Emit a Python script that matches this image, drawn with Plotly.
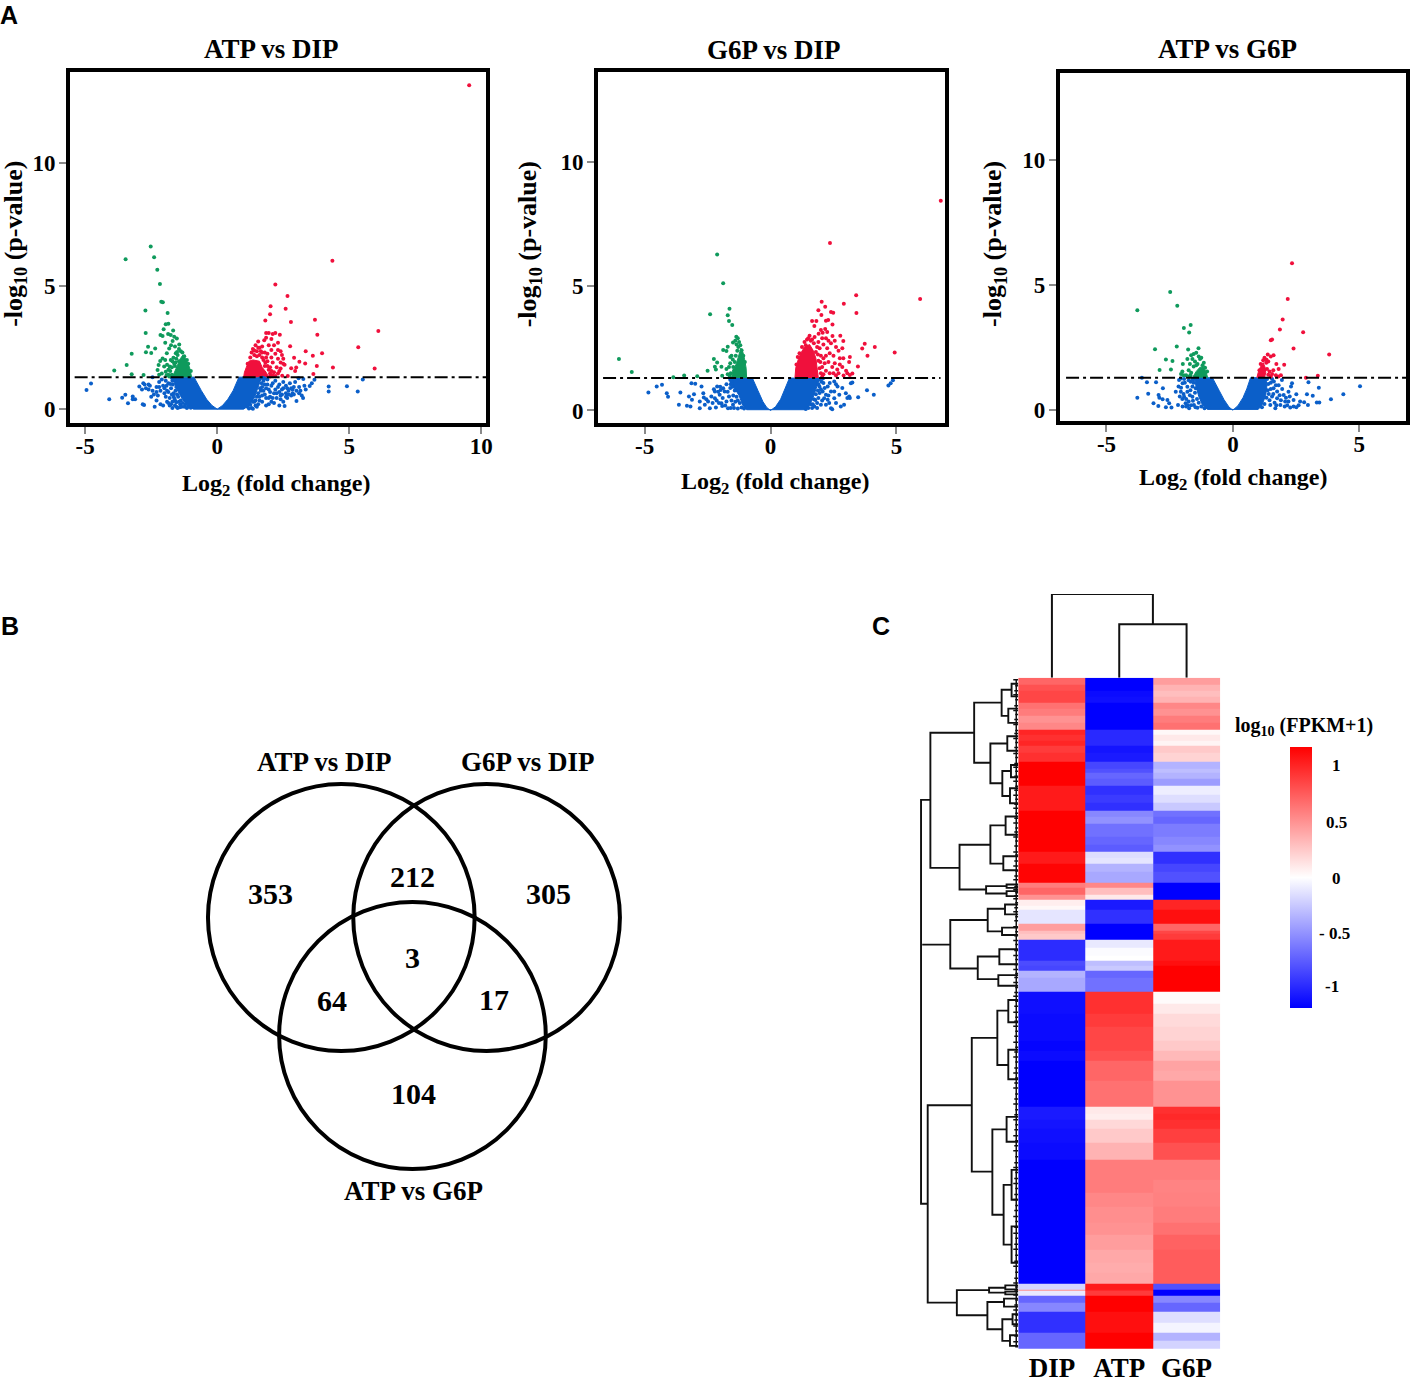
import plotly.graph_objects as go

W, H = 1417, 1383
SERIF = "Liberation Serif"
SANS = "Liberation Sans"
BLUE, GREEN, RED = "#0b5fc9", "#0f9a5c", "#f0103c"
THRESHOLD = 1.3

# ---------- Panel A: volcano data (log2 fold change, -log10 p) ----------
a1_blue_core = [(0,0),(.2,.15),(.4,.4),(.6,.75),(.82,1.3),(1.68,1.3),(1.55,.9),(1.4,.45),(1.2,.15),(1.0,0),
                (-.9,0),(-1.1,.15),(-1.32,.4),(-1.55,.85),(-1.7,1.3),(-.88,1.3),(-.6,.75),(-.4,.4),(-.2,.15),(0,0)]
a1_green_core = [(-.97,1.3),(-1.05,1.7),(-1.2,2.05),(-1.3,2.2),(-1.4,2.05),(-1.5,1.8),(-1.65,1.5),(-1.7,1.3)]
a1_red_core = [(1.0,1.3),(1.03,1.5),(1.1,1.7),(1.2,1.95),(1.35,2.0),(1.6,1.95),(1.7,1.7),(1.85,1.5),(1.95,1.3)]
a1_blue = [(-4.95,.78),(-4.78,1.04),(-4.09,.4),(-3.6,.46),(-3.48,.58),(-3.38,.24),(-3.2,.51),(-3.11,.4),(-3.2,.4),(-2.82,.2),
           (-2.77,.17),(-2.95,.92),(-2.8,1.05),(-2.7,.85),(-2.85,.8),(-2.6,.8),(-2.75,1.0),(-2.6,1.0),(-2.45,1.3),(-2.55,.95),
           (-2.45,.75),(-2.4,.6),(-2.5,.5),(-2.3,.9),(-2.2,1.1),(-2.25,.55),(-2.3,.35),(-2.37,.1),(-2.15,.75),(-2.1,1.2),
           (-2.05,.95),(-2.0,.65),(-2.15,.2),(-2.05,.15),(-1.95,.5),(-1.9,.3),(-2.0,.85),(-1.85,1.05),(-1.85,.7),(-1.8,.45),
           (-1.75,.2),(-1.7,.05),(-1.75,.85),(-1.65,.65),(-1.6,.35),(-1.55,.1),(-1.5,.05),(-1.4,.2),(-1.35,.1),(-1.7,1.15),
           (-1.85,.25),(-1.25,.1),(-1.15,.05),(-1.65,.5),(-1.55,.9),(-1.9,.75),(-2.2,.9),(-2.3,.7),(-1.95,1.15),(-1.6,.15),
           (-1.72,1.28),(-1.68,1.0),(-1.62,1.2),(-1.58,.75),(-1.52,.6),(-1.48,.5),(-1.45,.3),(-1.38,.35),(-1.3,.25),(-1.2,.2),
           (-1.62,.42),(-1.72,.6),(-1.78,1.02),(-1.55,.28),(-1.1,.1),(-1.0,.06),(-1.42,.08),(-1.7,.3),(-1.8,.15),(-1.92,.95),
           (1.3,.05),(1.35,.02),(1.4,.3),(1.5,.1),(1.55,.2),(1.6,.5),(1.7,.3),(1.75,.75),(1.8,1.0),(1.85,.45),(1.9,1.2),
           (1.95,.2),(2.0,.7),(2.05,.95),(2.1,.45),(2.15,.25),(2.2,1.15),(2.25,.65),(2.3,.9),(2.35,.15),(2.4,.55),(2.45,.8),
           (2.5,1.1),(2.4,.4),(2.55,.13),(2.6,.65),(2.6,.95),(2.65,.45),(2.7,.75),(2.75,1.05),(2.8,.55),(2.8,.85),(2.85,.65),
           (2.9,.6),(2.9,.9),(2.95,1.1),(3.0,.33),(3.1,.9),(3.08,1.26),(3.15,.75),(3.2,.55),(3.25,.45),(3.26,1.23),(3.3,.95),
           (3.35,.8),(3.5,.94),(3.58,1.05),(3.68,1.19),(4.22,.92),(4.22,.72),(4.91,.93),(5.32,.72),(5.51,1.21),
           (1.75,1.15),(2.0,.5),(2.2,.8),(2.45,.6),(2.5,.3),(2.1,1.05),(1.85,.85),(2.65,.85),(2.35,1.0),(1.65,.75),
           (1.62,1.25),(1.68,1.05),(1.7,.9),(1.62,.85),(1.55,.65),(1.5,.5),(1.45,.35),(1.35,.3),(1.25,.18),(1.15,.1),
           (1.72,1.28),(1.8,1.25),(1.9,1.0),(1.95,.8),(1.8,.6),(1.7,.55),(1.6,.35),(1.45,.15),(1.2,.03),(1.85,.15),
           (1.95,.45),(2.05,.3),(2.25,.45),(2.15,.65),(2.35,.7),(2.5,.85),(2.6,.5),(2.7,.6),(2.85,.8),(3.0,.75),(3.1,.65)]
a1_green = [(-2.52,6.61),(-2.39,6.18),(-3.47,6.09),(-2.27,5.67),(-2.17,5.09),(-2.12,4.37),(-2.06,4.35),(-2.72,4.01),(-1.88,3.91),
            (-1.95,3.45),(-1.85,3.47),(-2.03,3.25),(-1.67,3.2),(-2.71,3.1),(-2.15,3.01),(-2.07,2.97),(-1.86,3.06),(-1.76,3.01),
            (-1.63,2.94),(-1.53,2.87),(-1.97,2.7),(-1.69,2.77),(-1.44,2.63),(-2.62,2.54),(-2.35,2.47),(-2.7,2.31),(-2.5,2.28),
            (-3.24,2.25),(-1.82,2.47),(-1.91,2.27),(-3.43,1.79),(-3.9,1.57),(-3.24,1.42),(-2.79,1.39),(-2.07,2.06),(-2.16,1.96),
            (-2.22,1.79),(-1.97,2.0),(-1.76,2.0),(-1.8,1.73),(-2.01,1.73),(-2.26,1.59),(-1.95,1.52),(-1.57,2.27),(-1.66,2.09),
            (-1.63,1.86),(-2.1,1.45),(-1.9,1.8),(-1.85,1.4),(-1.7,1.95),(-1.6,2.55),(-2.2,1.4),(-1.75,2.6),
            (-1.45,2.45),(-1.38,2.35),(-1.32,2.3),(-1.25,2.15),(-1.15,2.0),(-1.5,2.2),(-1.55,2.05),(-1.45,1.95),(-1.6,1.75),
            (-1.72,1.7),(-1.78,1.55),(-1.85,1.6),(-1.72,1.4),(-1.82,1.33),(-1.92,1.38),(-1.1,1.85),(-1.0,1.55),(-1.58,1.9),(-1.52,2.32)]
a1_red = [(9.54,13.17),(4.36,6.03),(2.2,5.07),(2.66,4.6),(2.02,4.18),(2.59,4.08),(2.0,3.86),(3.7,3.63),(2.79,3.54),(1.82,3.6),
          (6.1,3.18),(3.79,3.02),(2.37,3.02),(5.34,2.52),(2.76,2.56),(3.35,2.35),(3.97,2.27),(3.62,2.17),(2.91,2.09),(3.11,1.93),
          (3.33,1.86),(3.77,1.75),(4.38,1.69),(5.96,1.65),(2.99,1.69),(2.8,1.66),(2.95,1.55),(3.64,1.43),(2.67,1.35),(2.46,1.36),
          (1.45,2.6),(1.55,2.75),(1.6,2.5),(1.7,2.55),(1.78,2.8),(1.85,2.9),(1.85,3.1),(1.95,3.1),(2.05,2.85),(2.1,3.05),(2.2,3.1),
          (1.95,2.6),(2.15,2.6),(2.3,2.7),(2.05,2.4),(2.2,2.25),(2.3,2.4),(2.4,2.35),(1.9,2.25),(2.05,2.1),(2.3,2.05),(2.45,2.2),
          (2.4,1.9),(2.5,1.85),(2.25,1.7),(2.4,1.65),(2.1,1.9),(2.55,1.8),(2.3,1.45),(2.15,1.5),(1.9,1.95),(1.95,1.6),(2.0,1.45),
          (1.3,2.3),(1.35,2.45),(1.5,2.35),(1.8,2.3),(2.35,1.55),(2.5,2.05),
          (1.25,2.1),(1.4,2.2),(1.5,2.15),(1.6,2.2),(1.7,2.1),(1.75,2.0),(1.82,1.9),(1.9,1.75),(2.0,1.7),(2.05,1.55),(2.1,1.38),
          (2.0,1.33),(2.2,1.35),(1.8,1.75),(1.65,2.35),(1.4,2.38),(1.15,1.85),(1.55,2.5),(1.7,2.3),(1.85,2.1)]

a2_blue_core = [(0,0),(.2,.15),(.4,.45),(.6,.95),(.75,1.3),(1.95,1.3),(1.85,1.0),(1.72,.6),(1.55,.2),(1.4,.03),
                (-.95,.03),(-1.1,.2),(-1.25,.6),(-1.5,1.0),(-1.55,1.3),(-.72,1.3),(-.5,.8),(-.3,.35),(-.15,.12),(0,0)]
a2_green_core = [(-.95,1.3),(-.97,1.7),(-1.03,2.05),(-1.1,2.35),(-1.18,2.5),(-1.25,2.25),(-1.35,1.9),(-1.5,1.55),(-1.55,1.3)]
a2_red_core = [(.97,1.3),(1.0,1.7),(1.1,2.05),(1.2,2.3),(1.35,2.55),(1.55,2.65),(1.7,2.4),(1.8,2.1),(1.85,1.7),(1.9,1.3)]
a2_blue = [(-4.85,.72),(-4.52,.96),(-4.31,1.03),(-4.12,.69),(-4.07,.55),(-3.58,.72),(-3.64,.23),(-3.32,.19),(-3.14,1.09),(-2.99,1.07),
           (-3.04,.65),(-3.24,.56),(-3.12,.43),(-3.18,.16),(-2.81,.09),(-2.74,.96),(-2.67,.69),(-2.65,.52),(-2.81,.36),(-2.61,.23),
           (-2.48,.36),(-2.41,.09),(-2.21,.76),(-2.12,.96),(-2.21,.49),(-2.02,.63),(-1.88,.89),(-1.82,.76),(-1.95,.29),(-2.17,.12),
           (-1.75,.36),(-1.69,.09),(-1.6,1.23),(-1.65,.56),(-1.49,.23),(-2.14,.4),(-2.35,.56),(-2.0,.95),(-1.75,1.05),(-1.9,.5),
           (-1.8,.2),(-1.58,.1),(-1.7,.75),(-2.3,.3),(-2.55,.45),(-1.45,.1),(-1.3,.08),
           (-1.55,1.15),(-1.5,.95),(-1.42,.8),(-1.35,.55),(-1.3,.4),(-1.22,.3),(-1.15,.12),(-1.05,.08),(-1.6,.9),(-1.58,1.05),
           (-1.48,.6),(-1.4,.35),(-1.55,.4),(-2.08,.75),(-1.98,.82),(-2.25,.85),(-1.92,.18),(-2.05,.3),
           (1.74,.16),(1.94,.96),(2.0,.23),(2.07,.76),(2.2,.23),(2.27,.96),(2.4,.09),(2.4,.76),(2.53,1.16),(2.53,.49),(2.66,.96),
           (2.73,.63),(2.79,.16),(2.92,.23),(2.99,.69),(3.12,.56),(3.19,1.09),(3.25,1.12),(3.48,.53),(3.83,.81),(4.1,.63),(4.68,1.0),
           (4.77,1.09),(4.86,1.21),(2.2,.63),(2.13,.49),(2.27,.43),(2.33,.3),(2.53,.76),(1.9,.5),(2.05,.4),(2.3,.6),(2.6,.3),
           (2.45,.05),(2.85,.9),(3.05,.5),(3.15,.5),(2.6,1.05),(2.1,1.1),(1.85,.3),(1.65,.1),(1.85,.1),
           (1.95,1.25),(2.02,1.15),(2.08,1.28),(1.9,1.05),(1.88,.8),(1.8,.65),(1.72,.45),(1.6,.25),(1.5,.1),(1.4,.06),(2.0,.85),
           (1.78,.42),(1.95,.7),(1.68,.25),(2.15,.9),(2.35,1.1)]
a2_green = [(-2.12,6.27),(-1.88,5.11),(-1.63,4.09),(-2.4,3.87),(-1.7,3.83),(-1.65,3.59),(-1.52,3.43),(-1.36,2.96),(-1.3,2.9),(-1.49,2.73),
            (-1.4,2.8),(-6.02,2.07),(-5.51,1.55),(-3.43,1.4),(-3.86,1.33),(-2.91,1.37),(-2.5,1.6),(-2.25,2.07),(-2.12,1.93),(-2.21,1.76),
            (-2.17,1.65),(-1.88,2.43),(-1.75,2.39),(-1.7,2.56),(-1.95,1.76),(-1.75,1.67),(-1.92,1.39),(-1.55,2.2),(-1.5,2.05),(-1.6,1.9),
            (-1.65,1.75),(-1.7,1.45),(-1.6,2.15),(-1.25,2.75),(-1.2,2.62),(-1.28,2.55),(-1.15,2.42),(-1.08,2.2),(-1.02,1.95),(-1.38,2.2),
            (-1.32,2.4),(-1.42,1.95),(-1.48,1.75),(-1.58,1.5),(-1.62,1.38),(-1.35,2.65),(-1.45,1.6)]
a2_red = [(6.76,8.43),(2.36,6.73),(5.94,4.48),(3.4,4.63),(2.03,4.37),(2.91,4.29),(2.17,4.17),(1.9,4.03),(2.4,3.96),(2.49,3.93),(3.41,3.92),
          (2.02,3.84),(1.65,3.59),(1.82,3.59),(2.2,3.6),(2.29,3.63),(2.46,3.45),(1.74,3.39),(2.17,3.27),(2.0,3.23),(2.07,3.12),(1.91,3.08),
          (2.25,3.15),(2.77,3.0),(2.46,2.99),(2.89,2.79),(3.74,2.68),(3.64,2.49),(4.14,2.55),(4.93,2.33),(3.85,2.2),(3.15,2.15),(2.89,2.1),
          (3.12,1.95),(3.47,1.77),(3.25,1.49),(3.15,1.42),(2.2,2.9),(2.3,2.8),(2.05,2.9),(2.1,2.65),(2.25,2.5),(2.4,2.7),(2.55,2.8),(2.6,2.55),
          (2.7,2.4),(2.85,2.5),(2.35,2.3),(2.2,2.2),(2.5,2.2),(2.75,2.1),(2.1,2.1),(2.3,1.95),(2.55,1.9),(2.45,1.75),(2.65,1.65),(2.85,1.75),
          (3.0,1.6),(2.2,1.6),(2.05,1.75),(2.35,1.5),(2.6,1.4),(2.9,1.4),(3.05,1.5),(2.1,1.45),(2.5,1.5),(2.75,1.85),(1.95,2.5),(2.0,2.2),
          (1.9,2.75),(1.75,2.95),(2.15,1.9),(2.7,1.5),
          (1.55,3.0),(1.45,2.85),(1.35,2.75),(1.25,2.55),(1.15,2.3),(1.65,2.85),(1.85,2.55),(1.8,2.35),(1.9,2.0),(1.95,1.7),(2.0,1.5),(2.05,1.35),
          (1.72,2.7),(1.4,2.62),(1.6,2.8),(1.08,2.15),(1.03,1.85),(1.98,1.95),(1.88,2.25),(1.5,2.9)]

a3_blue_core = [(0,0),(.2,.18),(.4,.5),(.55,.85),(.7,1.3),(1.3,1.3),(1.35,1.0),(1.3,.6),(1.15,.2),(1.0,.03),
                (-1.0,.03),(-1.2,.2),(-1.35,.55),(-1.47,1.0),(-1.5,1.3),(-.81,1.3),(-.55,.8),(-.35,.42),(-.15,.12),(0,0)]
a3_green_core = [(-1.0,1.3),(-1.05,1.5),(-1.15,1.7),(-1.3,1.72),(-1.45,1.55),(-1.6,1.3)]
a3_red_core = [(.95,1.3),(1.0,1.5),(1.1,1.75),(1.2,1.9),(1.28,1.7),(1.3,1.5),(1.25,1.3)]
a3_blue = [(-3.78,.5),(-3.4,1.12),(-3.04,1.12),(-3.35,.66),(-3.14,.28),(-2.94,.61),(-2.91,.5),(-2.95,.17),(-2.77,.88),(-2.78,.44),
           (-2.65,.12),(-2.59,.41),(-2.52,.28),(-2.43,.11),(-2.26,.74),(-2.17,.21),(-2.13,1.21),(-2.06,.74),(-1.99,1.08),(-1.99,.15),
           (-1.93,.54),(-1.8,.74),(-1.87,.28),(-1.73,.08),(-1.67,1.14),(-1.6,.54),(-1.8,.94),(-1.47,.88),(-1.54,.21),(-2.06,1.27),
           (-1.93,1.25),(-2.05,.9),(-2.0,.45),(-1.85,.15),(-1.75,.35),(-1.7,.6),(-1.9,1.1),(-1.6,.95),(-1.65,.2),(-1.55,1.1),(-2.1,.55),
           (-1.95,.65),(-2.15,.95),(-1.78,.2),(-3.6,1.3),(-1.52,1.25),(-1.5,.7),(-1.42,.45),(-1.35,.3),(-1.25,.15),(-1.12,.08),(-1.58,.38),
           (-1.75,1.2),(-1.85,.45),(-1.68,.8),(-1.48,.12),(-1.4,.1),(-1.6,1.22),
           (1.48,.21),(1.61,.88),(1.68,.08),(1.75,.48),(1.81,1.0),(1.94,1.21),(1.88,.21),(2.01,.61),(2.07,.35),(2.2,.74),(2.27,.11),
           (2.34,1.08),(2.4,.41),(2.51,.12),(2.51,.64),(2.66,.35),(2.82,.32),(2.93,.64),(2.99,1.12),(2.97,.21),(3.16,.58),(3.32,.31),
           (3.4,.9),(3.42,.31),(3.88,.44),(4.37,.64),(5.03,.96),(1.55,.55),(1.65,.3),(1.75,.75),(1.9,.4),(1.95,.85),(2.1,.5),(2.15,.2),
           (2.25,.55),(2.3,.95),(1.5,1.1),(1.6,.65),(1.85,.6),(2.05,.15),(2.4,.15),(1.45,.4),(2.6,.2),(2.2,.35),
           (1.35,1.25),(1.4,1.05),(1.38,.8),(1.33,.5),(1.25,.25),(1.15,.12),(1.42,.65),(1.5,.85),(1.55,1.25),(1.62,1.15),(1.7,1.0),(1.72,.2)]
a3_green = [(-2.48,4.73),(-2.2,4.18),(-3.78,4.0),(-1.67,3.41),(-1.94,3.29),(-1.73,3.11),(-2.22,2.55),(-1.77,2.43),(-1.36,2.48),(-3.08,2.44),
            (-2.65,2.03),(-2.39,1.97),(-1.98,1.85),(-2.9,1.61),(-2.45,1.63),(-1.65,2.2),(-1.55,2.25),(-1.45,2.3),(-1.35,2.15),(-1.6,2.05),
            (-1.8,2.05),(-1.5,1.95),(-1.7,1.85),(-1.3,2.05),(-1.25,2.1),(-2.0,1.55),(-1.95,1.4),(-1.85,1.4),(-2.05,1.45),(-1.75,1.6),(-1.15,1.9),
            (-1.4,1.85),(-1.55,1.75),(-1.2,1.8),(-1.1,1.7),(-1.65,1.5),(-1.68,1.4),(-1.45,1.8),(-1.02,1.55),(-1.72,1.35)]
a3_red = [(2.34,5.88),(2.17,4.45),(1.97,3.63),(1.86,3.23),(2.78,3.12),(1.55,2.83),(1.5,2.8),(2.4,2.47),(3.81,2.23),(1.38,2.23),(1.61,2.2),
          (2.03,1.82),(1.72,1.85),(1.81,1.65),(3.36,1.38),(2.89,1.3),(1.5,2.15),(1.4,1.95),(1.45,1.55),(1.55,1.45),(1.6,1.6),(1.7,1.4),
          (1.8,1.35),(1.9,1.4),(1.5,1.35),(1.25,2.1),(1.32,1.9),(1.2,2.0),(1.1,1.85),(1.35,1.65),(1.4,1.42),(1.05,1.6),(1.33,2.02)]

panels = [
    dict(name="ATP vs DIP", blue=a1_blue, green=a1_green, red=a1_red, blue_core=a1_blue_core, green_core=a1_green_core, red_core=a1_red_core,
         xr=[-5.57, 10.18], yr=[-.57, 13.72], xt=[-5, 0, 5, 10], box=(70.5, 72, 488.5, 425), line_x=[-5.4, 10.18]),
    dict(name="G6P vs DIP", blue=a2_blue, green=a2_green, red=a2_red, blue_core=a2_blue_core, green_core=a2_green_core, red_core=a2_red_core,
         xr=[-6.85, 6.94], yr=[-.51, 13.61], xt=[-5, 0, 5], box=(601, 72, 950, 425), line_x=[-6.65, 6.75]),
    dict(name="ATP vs G6P", blue=a3_blue, green=a3_green, red=a3_red, blue_core=a3_blue_core, green_core=a3_green_core, red_core=a3_red_core,
         xr=[-6.85, 6.85], yr=[-.44, 13.5], xt=[-5, 0, 5], box=(1065, 73, 1413, 423), line_x=[-6.6, 6.85]),
]
ytick_vals = [0, 5, 10]

# ---------- Panel B: Venn counts ----------
venn_sets = ["ATP vs DIP", "G6P vs DIP", "ATP vs G6P"]
venn_counts = [353, 212, 305, 3, 64, 17, 104]

# ---------- Panel C: heat map ----------
heat_cols = ["DIP", "ATP", "G6P"]
row_edges = [0,6.6,12.6,19.3,25.3,31,38.6,45.3,52,57.6,63.3,68.6,75.3,84,91,95.3,101,108,117.6,126,134,139.3,146.6,159.3,167.6,174.3,181,
             186.6,195.3,206,211,217.6,223.3,228.6,233.3,239.3,247.3,254.3,257.6,263.3,271,279.3,284.3,289.3,294.3,301,315.3,
             327.6,337.6,351,364.3,374.3,385,394.3,404.3,417.6,431,437.6,444.3,453.3,466.6,476,484.3,504.3,517.6,531,547.6,559.3,
             574.3,587.6,597.6,608.3,614.3,616,620.3,627.6,637,647.6,657.6,666,674.3]
dip_vals = [.7,.8,.85,.85,.65,.6,.5,.55,1.0,.95,1.0,.9,.95,1.17,1.17,1.17,1.17,1.05,1.05,1.05,1.17,1.17,1.17,1.17,1.17,1.05,1.05,
            1.15,1.15,.6,.7,.5,.08,.03,-.12,-.12,.45,.3,.25,-.97,-.97,-.97,-.82,-.85,-.35,-.4,
            -1.1,-1.1,-1.12,-1.12,-1.15,-1.12,-1.17,-1.17,-1.17,-1.17,-1.05,-1.05,-1.08,-1.1,-1.12,-1.12,-1.17,-1.17,-1.17,-1.17,-1.17,-1.17,-1.17,
            -1.17,-1.17,-.2,.5,-.1,-.7,-.55,-.95,-.95,-.7,-.7]
atp_vals = [-1.17,-1.17,-1.12,-1.1,-1.17,-1.17,-1.17,-1.17,-.98,-.98,-.98,-1.08,-1.05,-.85,-.8,-.7,-.75,-.95,-.9,-.95,-.55,-.5,-.65,-.7,-.75,-.15,-.12,
            -.35,-.4,.55,.3,.1,-1.05,-1.05,-.95,-.95,-1.17,-1.17,-1.17,-.1,-.02,0,-.3,-.25,-.7,-.65,
            .95,.95,.9,.85,.85,.8,.7,.7,.65,.65,.1,.08,.18,.25,.35,.35,.6,.6,.55,.52,.5,.45,.4,.38,.4,1.05,1.0,.9,1.17,1.17,1.1,1.1,1.17,1.17]
g6p_vals = [.45,.35,.3,.35,.55,.5,.6,.65,.03,.1,.05,.25,.2,-.35,-.3,-.35,-.45,-.08,-.15,-.25,-.65,-.7,-.6,-.55,-.5,-.95,-.95,-.85,-.8,
            -1.17,-1.17,-1.17,1.0,1.0,1.1,1.1,.7,.85,.9,1.05,1.05,1.05,1.1,1.17,1.17,1.17,
            .02,.1,.17,.2,.25,.32,.42,.4,.5,.5,.95,.98,.95,.88,.8,.8,.6,.57,.58,.6,.65,.72,.75,.75,.75,-.8,-1.17,-1.17,-.55,-.7,-.15,-.05,-.35,-.2]
cbar_ticks = ["1", "0.5", "0", "- 0.5", "-1"]

# Row dendrogram: (height, row_top, row_bottom, child_top, child_bottom)
row_tree = (97.7, 122.7, 528.3,
    (88.3, 55.3, 191,
        (44.3, 25, 85.3,
            (16.7, 12, 38.3, (6.7, 6, 18.7, None, None), (10, 31, 45.3, None, None)),
            (28, 66, 106,
                (11, 58.7, 73.3, None, None),
                (16, 93.7, 118.7, (7.3, 87.7, 100, None, None), (8.3, 111, 126, None, None)))),
        (59, 167.7, 212.7,
            (28, 148.3, 186.7, (12.7, 139.3, 157.7, None, None), (15, 179.3, 193.3, None, None)),
            (32.3, 209.3, 216.7, (11.7, 207.7, 211, None, None), (11.7, 214.3, 219.3, None, None)))),
    (91, 429.3, 627.6,
        (46.7, 361.7, 496,
            (21, 334.3, 389, (10, 323.6, 346, None, None), (10, 373.6, 403.3, None, None)),
            (26, 453.6, 539.3,
                (11.7, 441, 466, None, None),
                (14.7, 509.3, 569.3, (6.7, 494.3, 524.3, None, None), (6.7, 551, 587.6, None, None)))),
        (61.7, 615, 640.3,
            (29.3, 612.6, 617.6, (13, 610.3, 614.3, None, None), (13, 616.6, 619.3, None, None)),
            (31, 627, 654.3,
                (14.3, 623.6, 631.6, None, None),
                (16, 644.3, 666, (5.7, 639.3, 649.3, None, None), (8.3, 660.3, 671, None, None))))))
row_side_branch = (96.5, 268,
    (68.3, 243.3, 292,
        (30.7, 232, 254.7, (13.3, 227.7, 237.7, None, None), (16.3, 251, 258.3, None, None)),
        (40.7, 280, 302.7, (19, 272.7, 287.7, None, None), (20, 298.7, 309.3, None, None))))
leaf_rows = [2,8,13,17,22,28,33,37,42,47,53,56,61,65,70,76,80,86,90,94,99,104,109,113,118,122,127,131,136,141,146,151,155,160,
             164,169,175,178,184,189,194,199,203,208,210,213,216,219,222,226,231,235,240,244,250,255,259,264,268,274,279,283,288,293,297,
             301,306,311,316,320,325,330,336,341,345,350,355,360,366,371,376,381,386,392,397,402,407,412,418,423,428,434,439,444,449,454,
             460,465,470,475,481,487,492,497,503,508,513,519,524,530,535,541,546,552,558,563,569,574,580,586,591,597,603,608,612,616,620,
             625,630,635,640,645,651,656,661,667,672]
col_tree_heights = [.64, 1.0]  # ATP+G6P merge, then DIP


def dx(a, b):
    return [a / W, b / W]


def dy(top, bot):
    return [1 - bot / H, 1 - top / H]


def bold(family, size):
    return dict(family=family, size=size, color="black", weight=700)


def label(text, x, y, size, family=SERIF, angle=0):
    return dict(text=str(text), x=x / W, y=1 - y / H, xref="paper", yref="paper", showarrow=False,
                font=bold(family, size), textangle=angle, xanchor="center", yanchor="middle", align="center")


def pts(seq):
    return [p[0] for p in seq], [p[1] for p in seq]


fig = go.Figure()
layout = dict(autosize=True, margin=dict(l=0, r=0, t=0, b=0),
              paper_bgcolor="white", plot_bgcolor="white", showlegend=False)
annotations, shapes = [], []

# --- volcano panels
for i, p in enumerate(panels, start=1):
    xa, ya = f"x{i}", f"y{i}"
    for core, color in ((p["blue_core"], BLUE), (p["green_core"], GREEN), (p["red_core"], RED)):
        cx, cy = pts(core)
        fig.add_trace(go.Scatter(x=cx, y=cy, xaxis=xa, yaxis=ya, mode="lines", fill="toself",
                                 fillcolor=color, line=dict(color=color, width=1), hoverinfo="skip"))
    for seq, color in ((p["blue"], BLUE), (p["green"], GREEN), (p["red"], RED)):
        sx, sy = pts(seq)
        fig.add_trace(go.Scatter(x=sx, y=sy, xaxis=xa, yaxis=ya, mode="markers",
                                 marker=dict(color=color, size=4, line=dict(width=0))))
    fig.add_trace(go.Scatter(x=p["line_x"], y=[THRESHOLD, THRESHOLD], xaxis=xa, yaxis=ya, mode="lines",
                             line=dict(color="black", width=2, dash="13px,4px,3px,4px"), hoverinfo="skip"))
    l, t, r, b = p["box"]
    common = dict(showgrid=False, zeroline=False, showline=True, mirror=True, linecolor="black", linewidth=4,
                  ticks="outside", ticklen=7, tickwidth=2, tickcolor="#8a8a8a", tickfont=bold(SERIF, 23))
    layout[f"xaxis{i}"] = dict(common, domain=dx(l, r), range=p["xr"], anchor=ya, tickmode="array",
                               tickvals=p["xt"], ticktext=[str(v) for v in p["xt"]], ticklabelstandoff=-8)
    layout[f"yaxis{i}"] = dict(common, domain=dy(t, b), range=p["yr"], anchor=xa, tickmode="array",
                               tickvals=ytick_vals, ticktext=[str(v) for v in ytick_vals], ticklabelstandoff=-1)

annotations += [label("ATP vs DIP", 273, 49, 27), label("G6P vs DIP", 778, 50, 27), label("ATP vs G6P", 1234, 49, 27)]
for x, y, ylx, yly in ((277, 487, 15, 245), (779, 485, 532, 245), (1239, 481, 999, 245)):
    annotations.append(label("Log<sub>2</sub> (fold change)", x, y, 24))
    annotations.append(label("-log<sub>10</sub> (p-value)", ylx, yly, 26, angle=-90))
annotations += [label("A", 9, 15, 25, SANS), label("B", 10, 629, 25, SANS), label("C", 885, 629, 25, SANS)]

# --- Venn
venn_circles = [(343, 921.5, 134), (489, 921.5, 134), (414.5, 1040, 134)]
for cx, cy, rad in venn_circles:
    shapes.append(dict(type="circle", xref="paper", yref="paper", x0=(cx - rad) / W, x1=(cx + rad) / W,
                       y0=1 - (cy + rad) / H, y1=1 - (cy - rad) / H, line=dict(color="black", width=4)))
for name, (x, y) in zip(venn_sets, ((326, 765), (531, 765), (416, 1196))):
    annotations.append(label(name, x, y, 27))
for n, (x, y) in zip(venn_counts, ((272, 897), (415, 880), (551, 897), (415, 962), (334, 1005), (496, 1004), (416, 1098))):
    annotations.append(label(n, x, y, 30))

# --- heat map
zrows = [list(v) for v in zip(dip_vals, atp_vals, g6p_vals)]
fig.add_trace(go.Heatmap(z=zrows, x=heat_cols, y=row_edges, xaxis="x4", yaxis="y4", zmin=-1.17, zmax=1.17,
                         colorscale=[[0, "#0000ff"], [.5, "#ffffff"], [1, "#ff0000"]],
                         colorbar=dict(thickness=21.5, thicknessmode="pixels", len=261, lenmode="pixels",
                                       x=1296.5 / W, xanchor="left", y=1 - 750 / H, yanchor="top", xpad=0, ypad=0,
                                       outlinewidth=0, ticks="", showticklabels=False)))
layout["xaxis4"] = dict(domain=dx(1023.3, 1226.3), anchor="y4", range=[-.5, 2.5], showgrid=False, zeroline=False, showline=False,
                        ticks="", ticklen=0, tickfont=bold(SERIF, 27), tickmode="array",
                        tickvals=heat_cols, ticktext=heat_cols, type="category")
layout["yaxis4"] = dict(domain=dy(680.7, 1355), anchor="x4", range=[674.3, 0], showgrid=False, zeroline=False,
                        showline=False, showticklabels=False, ticks="")

# column dendrogram
h1, h2 = col_tree_heights
col_x = [1, 1, 2, 2, None, 0, 0, 1.5, 1.5]
col_y = [0, h1, h1, 0, None, 0, h2, h2, h1]
fig.add_trace(go.Scatter(x=col_x, y=col_y, xaxis="x5", yaxis="y5", mode="lines", cliponaxis=False,
                         line=dict(color="#111111", width=2), hoverinfo="skip"))
layout["xaxis5"] = dict(domain=dx(1023.3, 1226.3), anchor="y5", range=[-.5, 2.5], visible=False)
layout["yaxis5"] = dict(domain=dy(596.7, 680.7), anchor="x5", range=[0, 1], visible=False)

# row dendrogram
tx, ty = [], []


def walk(node):
    h, r1, r2, c1, c2 = node
    h1_ = c1[0] if c1 else 0
    h2_ = c2[0] if c2 else 0
    tx.extend([h1_, h, h, h2_, None])
    ty.extend([r1, r1, r2, r2, None])
    for c in (c1, c2):
        if c:
            walk(c)


walk(row_tree)
side_h, side_r, side_node = row_side_branch
tx.extend([side_h, side_node[0], None])
ty.extend([side_r, side_r, None])
walk(side_node)
fig.add_trace(go.Scatter(x=tx, y=ty, xaxis="x6", yaxis="y6", mode="lines", cliponaxis=False,
                         line=dict(color="#111111", width=1.9), hoverinfo="skip"))
cx_, cy_ = [], []
for idx, r in enumerate(leaf_rows):
    reach = (5, 3, 4)[idx % 3]
    cx_.extend([reach, 0, None])
    cy_.extend([r, r, None])
cx_.extend([2, 2])
cy_.extend([leaf_rows[0], leaf_rows[-1]])
fig.add_trace(go.Scatter(x=cx_, y=cy_, xaxis="x6", yaxis="y6", mode="lines", cliponaxis=False,
                         line=dict(color="#111111", width=1.5), hoverinfo="skip"))
layout["xaxis6"] = dict(domain=dx(921.3, 1023.3), anchor="y6", range=[102, 0], visible=False)
layout["yaxis6"] = dict(domain=dy(680.7, 1355), anchor="x6", range=[674.3, 0], visible=False)

# colour-bar labels
annotations.append(label("log<sub>10</sub> (FPKM+1)", 1310, 730, 20))
for txt, (x, y) in zip(cbar_ticks, ((1343, 769), (1343, 826), (1343, 882), (1341, 938), (1339, 991))):
    annotations.append(label(txt, x, y, 17))

layout["annotations"] = annotations
layout["shapes"] = shapes
fig.update_layout(**layout)
fig.write_html("out.html", config=dict(displayModeBar=False, responsive=True),
               default_width="100vw", default_height="100vh", post_script=(
    "document.body.style.margin='0';document.body.style.overflow='hidden';"
    "document.documentElement.style.overflow='hidden';"
    "var d=document.querySelector('.plotly-graph-div');d.style.display='block';"
    "d.style.width='100vw';d.style.height='100vh';Plotly.Plots.resize(d);"
))
